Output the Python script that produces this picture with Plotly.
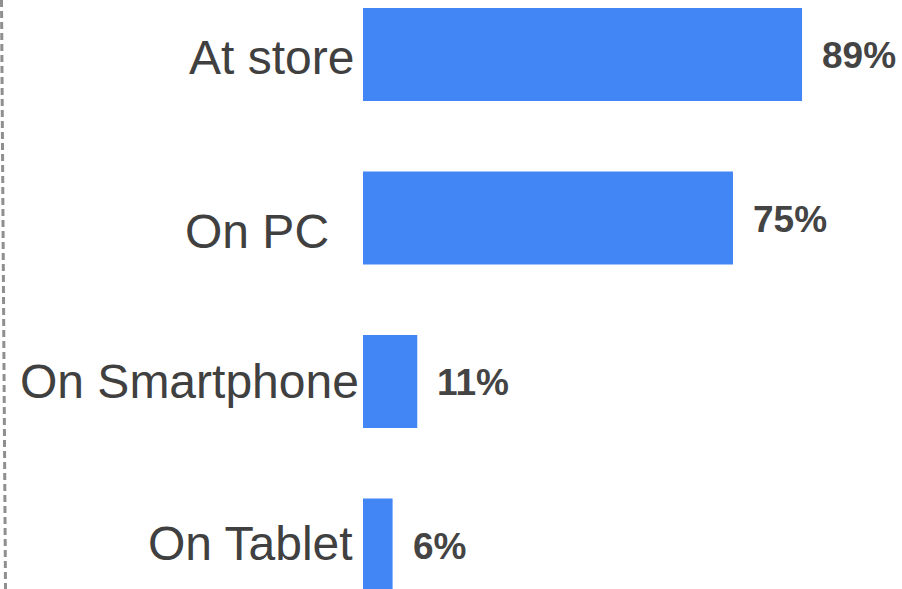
import plotly.graph_objects as go

categories = ["At store", "On PC", "On Smartphone", "On Tablet"]
values = [89, 75, 11, 6]
value_labels = ["89%", "75%", "11%", "6%"]

# per-label nudges (px) for the category captions
label_xshift = [-7, -32, -2, -8]
label_yshift = [-3, -13, 0, 2]

W, H = 902, 589
left = 363
px_per_unit = 4.933
pitch = 163.5
first_center = 54.5

positions = list(range(len(categories)))

fig = go.Figure(
    go.Bar(
        x=values,
        y=positions,
        orientation="h",
        width=93 / pitch,
        marker=dict(color="#4285F4", line=dict(width=0)),
        hoverinfo="skip",
    )
)

annotations = []
for i, (cat, v, lab) in enumerate(zip(categories, values, value_labels)):
    annotations.append(dict(
        x=0, y=i, xref="x", yref="y", text=cat, showarrow=False,
        xanchor="right", yanchor="middle",
        xshift=label_xshift[i], yshift=label_yshift[i],
        font=dict(family="Liberation Sans, Arial, sans-serif", size=48, color="#404040"),
    ))
    annotations.append(dict(
        x=v, y=i, xref="x", yref="y", text="<b>%s</b>" % lab, showarrow=False,
        xanchor="left", yanchor="middle", xshift=18, yshift=-1,
        font=dict(family="Liberation Sans, Arial, sans-serif", size=37, color="#444444"),
    ))

plot_w = W - left
fig.update_layout(
    width=W, height=H,
    margin=dict(l=left, r=0, t=0, b=0),
    paper_bgcolor="white", plot_bgcolor="white",
    showlegend=False,
    xaxis=dict(range=[0, plot_w / px_per_unit], visible=False, fixedrange=True),
    yaxis=dict(
        range=[3 + (H - (first_center + 3 * pitch)) / pitch, -first_center / pitch],
        visible=False, fixedrange=True,
    ),
    annotations=annotations,
    shapes=[dict(
        type="line", xref="paper", yref="paper",
        x0=(1.5 - left) / plot_w, y0=1, x1=(5.5 - left) / plot_w, y1=0,
        line=dict(color="#8f8f8f", width=3, dash="7px,4px"),
    )],
)

fig.write_html("out.html", config={"displayModeBar": False})
